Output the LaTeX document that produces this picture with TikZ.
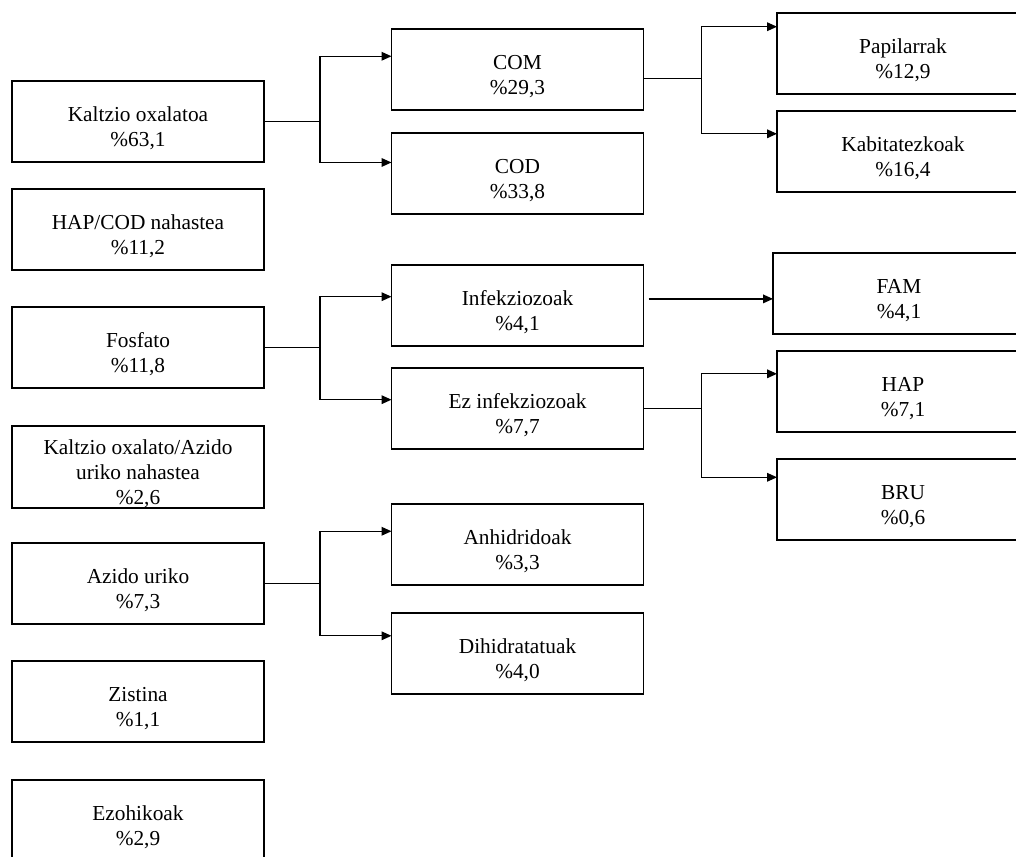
\documentclass[tikz,border=0pt]{standalone}
\usepackage{fontspec}
\setmainfont{Liberation Serif}
\usetikzlibrary{positioning, arrows.meta}
\tikzset{box/.style={draw, line width=1.3pt, minimum width=189pt, minimum height=60.75pt, text width=185pt, inner sep=0pt, outer sep=0pt, align=flush center, text height=21pt, font=\fontsize{16}{19}\selectfont},
arr/.style={line width=1pt, -{Triangle[length=7.5pt, width=6.5pt]}}}

\begin{document}
\begin{tikzpicture}[x=0.75pt, y=-0.75pt]
\useasboundingbox (0,0) rectangle (1016,856);
\node[box] (KO) at (138,121.5) {Kaltzio oxalatoa\\\%63,1};
\node[box, below = 20.25pt of KO] (HC) {HAP/COD nahastea\\\%11,2};
\node[box, below = 27.75pt of HC] (F) {Fosfato\\\%11,8};
\node[box, below = 28.5pt of F] (KA) {Kaltzio oxalato/Azido\\uriko nahastea\\\%2,6};
\node[box, below = 26.5pt of KA] (AU) {Azido uriko\\\%7,3};
\node[box, below = 27.75pt of AU] (Z) {Zistina\\\%1,1};
\node[box, below = 28.5pt of Z] (E) {Ezohikoak\\\%2,9};
\node[box] (COM) at (517.5,69.5) {COM\\\%29,3};
\node[box, below = 17.25pt of COM] (COD) {COD\\\%33,8};
\node[box, below = 38.25pt of COD] (Inf) {Infekziozoak\\\%4,1};
\node[box, below = 16.5pt of Inf] (EzInf) {Ez infekziozoak\\\%7,7};
\node[box, below = 41.25pt of EzInf] (Anh) {Anhidridoak\\\%3,3};
\node[box, below = 21pt of Anh] (Dih) {Dihidratatuak\\\%4,0};
\node[box] (Pap) at (903,53.5) {Papilarrak\\\%12,9};
\node[box, below = 12.75pt of Pap] (Kab) {Kabitatezkoak\\\%16,4};
\node[box, below = 45.75pt of Kab, xshift=-3pt] (FAM) {FAM\\\%4,1};
\node[box, below = 12.75pt of FAM, xshift=3pt] (HAP) {HAP\\\%7,1};
\node[box, below = 20.25pt of HAP] (BRU) {BRU\\\%0,6};
\draw[arr] (KO.east) -- ++(56,0) |- (COM.174);
\draw[arr] (KO.east) -- ++(56,0) |- (COD.175);
\draw[arr] (COM.356) -- ++(58,0) |- (Pap.168);
\draw[arr] (COM.356) -- ++(58,0) |- (Kab.172);
\draw[arr] (F.east) -- ++(56,0) |- (Inf.176);
\draw[arr] (F.east) -- ++(56,0) |- (EzInf.176);
\draw[arr] ([xshift=3.75pt]Inf.3) -- (Inf.3 -| FAM.west);
\draw[arr] (EzInf.east) -- ++(58,0) |- (HAP.172);
\draw[arr] (EzInf.east) -- ++(58,0) |- (BRU.170);
\draw[arr] (AU.east) -- ++(56,0) |- (Anh.174);
\draw[arr] (AU.east) -- ++(56,0) |- (Dih.172);
\end{tikzpicture}
\end{document}
